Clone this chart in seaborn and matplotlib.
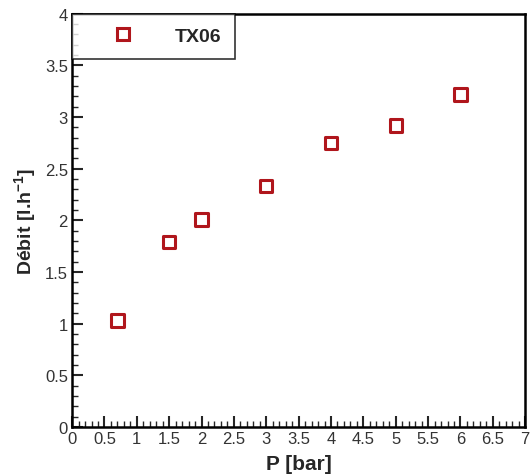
import numpy as np
import seaborn as sns
import matplotlib.pyplot as plt
import pandas as pd
from matplotlib.ticker import MultipleLocator, FormatStrFormatter

# donnees
pression = [0.7, 1.5, 2.0, 3.0, 4.0, 5.0, 6.0]
debit = [1.03, 1.79, 2.01, 2.33, 2.75, 2.92, 3.22]
serie = "TX06"

df = pd.DataFrame({"P": pression, "Debit": debit, "serie": serie})

sns.set_style("white")
plt.rcParams["font.family"] = ["Liberation Sans", "DejaVu Sans"]
plt.rcParams["mathtext.fontset"] = "custom"
plt.rcParams["mathtext.bf"] = "Liberation Sans:bold"

fig = plt.figure(figsize=(5.3, 4.77), dpi=100)
ax = fig.add_axes([0.136, 0.103, 0.855, 0.866])

rouge = "#b0161c"
sns.scatterplot(data=df, x="P", y="Debit", hue="serie", palette=["white"],
                marker="s", s=80, edgecolor=rouge, linewidth=2.2, ax=ax)

ax.set_xlim(0, 7)
ax.set_ylim(0, 4)
ax.xaxis.set_major_locator(MultipleLocator(0.5))
ax.xaxis.set_minor_locator(MultipleLocator(0.1))
ax.yaxis.set_major_locator(MultipleLocator(0.5))
ax.yaxis.set_minor_locator(MultipleLocator(0.1))
ax.xaxis.set_major_formatter(FormatStrFormatter("%g"))
ax.yaxis.set_major_formatter(FormatStrFormatter("%g"))
ax.tick_params(which="major", direction="in", length=8, width=1.5,
               labelsize=12, labelcolor="#333333", pad=3)
ax.tick_params(which="minor", direction="in", length=4, width=1.0)
ax.tick_params(bottom=True, left=True, top=False, right=False, which="both")

for sp in ax.spines.values():
    sp.set_linewidth(1.8)
    sp.set_color("black")

ax.set_xlabel("P [bar]", fontsize=15, fontweight="bold", labelpad=6)
ax.set_ylabel(r"Débit [l.h$^{\mathbf{-1}}$]", fontsize=14, fontweight="bold", labelpad=4)

leg = ax.legend(loc="upper left", frameon=True, fancybox=False, borderaxespad=0,
                prop={"weight": "bold", "size": 14},
                handlelength=3.8, handletextpad=0.8, borderpad=0.7)
leg.get_frame().set_edgecolor("black")
leg.get_frame().set_linewidth(1.2)
for h in leg.legend_handles:
    h.set_markerfacecolor("white")
    h.set_markeredgecolor(rouge)
    h.set_markeredgewidth(2.2)

fig.savefig("out.png", dpi=100)
